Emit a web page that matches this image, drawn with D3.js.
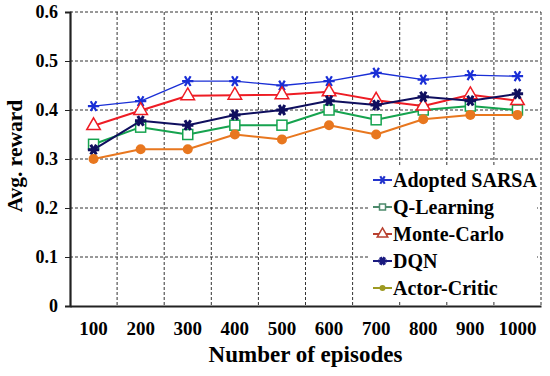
<!DOCTYPE html>
<html>
<head>
<meta charset="utf-8">
<script src="https://cdn.jsdelivr.net/npm/d3@7"></script>
<style>
  body { margin: 0; background: #fff; }
  svg text { font-family: "Liberation Serif", "Times New Roman", serif; font-weight: bold; fill: #000; }
</style>
</head>
<body>
<svg id="chart"></svg>
<script>
var episodes = ["100", "200", "300", "400", "500", "600", "700", "800", "900", "1000"];
var yTicks = [0, 0.1, 0.2, 0.3, 0.4, 0.5, 0.6];

var seriesNames = ["Adopted SARSA", "Q-Learning", "Monte-Carlo", "DQN", "Actor-Critic"];
var sarsa = [0.408, 0.418, 0.459, 0.459, 0.45, 0.459, 0.476, 0.462, 0.471, 0.469];
var qLearning = [0.33, 0.365, 0.35, 0.369, 0.369, 0.40, 0.38, 0.40, 0.408, 0.40];
var monteCarlo = [0.368, 0.399, 0.429, 0.43, 0.431, 0.437, 0.42, 0.408, 0.431, 0.419];
var dqn = [0.319, 0.378, 0.369, 0.39, 0.40, 0.419, 0.41, 0.427, 0.419, 0.433];
var actorCritic = [0.30, 0.32, 0.32, 0.35, 0.34, 0.369, 0.35, 0.381, 0.39, 0.39];

var lineColors = ["#1a2fd6", "#16a34f", "#ee1c24", "#0f0f5e", "#e8771f"];
var legendColors = ["#2233cc", "#4d8a6c", "#b8402f", "#1a1a80", "#9d9a22"];

var allSeries = [sarsa, qLearning, monteCarlo, dqn, actorCritic];

var svgWidth = 550, svgHeight = 376;
var margin = { top: 12, right: 9, bottom: 70, left: 70 };
var width = svgWidth - margin.left - margin.right;
var height = svgHeight - margin.top - margin.bottom;

var svg = d3.select("#chart")
  .attr("width", svgWidth)
  .attr("height", svgHeight);

var g = svg.append("g")
  .attr("transform", "translate(" + margin.left + "," + margin.top + ")");

var x = d3.scaleBand().domain(episodes).range([0, width]);
var y = d3.scaleLinear().domain([0, 0.6]).range([height, 0]);

// dashed grid
g.append("g")
  .selectAll("line")
  .data(yTicks.filter(function(d) { return d > 0; }))
  .enter().append("line")
  .attr("x1", 0).attr("x2", width)
  .attr("y1", function(d) { return y(d); })
  .attr("y2", function(d) { return y(d); })
  .attr("stroke", "#333").attr("stroke-width", 1)
  .attr("stroke-dasharray", "3,2");

var xBounds = episodes.map(function(d) { return x(d) + x.bandwidth(); });
g.append("g")
  .selectAll("line")
  .data(xBounds)
  .enter().append("line")
  .attr("x1", function(d) { return d; })
  .attr("x2", function(d) { return d; })
  .attr("y1", 0).attr("y2", height)
  .attr("stroke", "#333").attr("stroke-width", 1)
  .attr("stroke-dasharray", "3,2");

// axes
var yAxis = g.append("g")
  .call(d3.axisLeft(y).tickValues(yTicks).tickFormat(function(d) { return d === 0 ? "0" : d3.format(".1f")(d); }).tickSize(5).tickPadding(7));
yAxis.select(".domain").attr("stroke", "#222").attr("stroke-width", 2.2);
yAxis.selectAll(".tick line").attr("stroke", "#222");
yAxis.selectAll("text").style("font-size", "18px");

var xAxis = g.append("g")
  .attr("transform", "translate(0," + height + ")")
  .call(d3.axisBottom(x).tickSize(0).tickPadding(16));
xAxis.select(".domain").attr("stroke", "#222").attr("stroke-width", 2.2);
xAxis.selectAll("text").style("font-size", "19px");

// axis titles
svg.append("text")
  .attr("x", margin.left + width / 2)
  .attr("y", 362)
  .attr("text-anchor", "middle")
  .style("font-size", "23px")
  .text("Number of episodes");

svg.append("text")
  .attr("transform", "translate(22," + 156 + ") rotate(-90)")
  .attr("text-anchor", "middle")
  .style("font-size", "21.5px")
  .text("Avg. reward");

// markers
function drawMarker(sel, i, color, s) {
  if (i === 0) {
    sel.append("path")
      .attr("d", d3.symbol(d3.symbolAsterisk).size(s * 9)())
      .attr("transform", "rotate(90)")
      .attr("fill", "none").attr("stroke", color).attr("stroke-width", 2.2);
  } else if (i === 1) {
    sel.append("rect")
      .attr("x", -s / 2).attr("y", -s / 2).attr("width", s).attr("height", s)
      .attr("fill", "#fff").attr("stroke", color).attr("stroke-width", 1.5);
  } else if (i === 2) {
    sel.append("path")
      .attr("d", d3.symbol(d3.symbolTriangle).size(s * 8)())
      .attr("fill", "#fff").attr("stroke", color).attr("stroke-width", 1.5);
  } else if (i === 3) {
    sel.append("path")
      .attr("d", d3.symbol(d3.symbolAsterisk).size(s * 9)())
      .attr("transform", "rotate(90)")
      .attr("fill", "none").attr("stroke", color).attr("stroke-width", 3);
    sel.append("circle").attr("r", s * 0.28).attr("fill", color);
  } else {
    sel.append("circle").attr("r", s * 0.5).attr("fill", color);
  }
}

var line = d3.line()
  .x(function(d, i) { return x(episodes[i]) + x.bandwidth() / 2; })
  .y(function(d) { return y(d); });

var lineWidths = [1.3, 2, 2, 2, 2];

allSeries.forEach(function(vals, i) {
  var sg = g.append("g");
  sg.append("path")
    .datum(vals)
    .attr("fill", "none")
    .attr("stroke", lineColors[i])
    .attr("stroke-width", lineWidths[i])
    .attr("stroke-linejoin", "round")
    .attr("d", line);
  vals.forEach(function(v, j) {
    var m = sg.append("g")
      .attr("transform", "translate(" + (x(episodes[j]) + x.bandwidth() / 2) + "," + y(v) + ")");
    drawMarker(m, i, lineColors[i], 10);
  });
});

// legend
var lg = svg.append("g").attr("transform", "translate(368,167)");
lg.append("rect")
  .attr("x", 0).attr("y", 0).attr("width", 169).attr("height", 134)
  .attr("fill", "#fff");

seriesNames.forEach(function(name, i) {
  var row = lg.append("g").attr("transform", "translate(0," + (13 + i * 27) + ")");
  row.append("line")
    .attr("x1", 5).attr("x2", 24)
    .attr("stroke", legendColors[i]).attr("stroke-width", 2);
  var m = row.append("g").attr("transform", "translate(14.5,0)");
  drawMarker(m, i, legendColors[i], 6);
  row.append("text")
    .attr("x", 25).attr("y", 7)
    .style("font-size", "20px")
    .text(name);
});
</script>
</body>
</html>
